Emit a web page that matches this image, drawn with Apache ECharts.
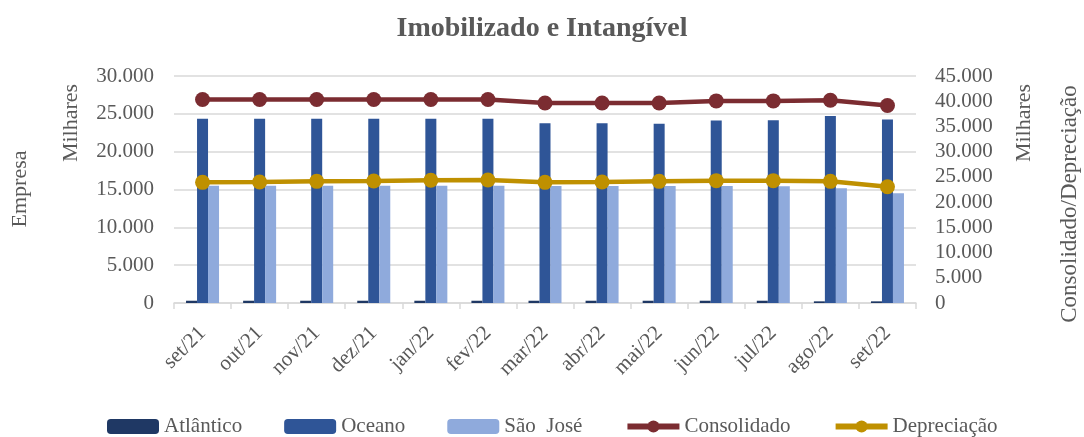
<!DOCTYPE html>
<html>
<head>
<meta charset="utf-8">
<script src="https://cdn.jsdelivr.net/npm/echarts@6/dist/echarts.min.js"></script>
<style>
  html, body { margin: 0; padding: 0; background: #fff; }
  #chart { width: 1084px; height: 437px; }
</style>
</head>
<body>
<div id="chart"></div>
<script>
// dados do gráfico (valores em milhares)
var meses = ['set/21', 'out/21', 'nov/21', 'dez/21', 'jan/22', 'fev/22', 'mar/22',
  'abr/22', 'mai/22', 'jun/22', 'jul/22', 'ago/22', 'set/22'];
var atlantico = [300, 300, 300, 300, 300, 300, 300, 300, 300, 300, 300, 220, 220];
var oceano = [24350, 24350, 24350, 24350, 24350, 24350, 23750, 23750, 23700, 24120, 24150, 24700, 24250];
var saoJose = [15500, 15480, 15480, 15480, 15480, 15480, 15460, 15460, 15460, 15460, 15440, 15160, 14500];
var consolidado = [40330, 40330, 40330, 40330, 40330, 40330, 39660, 39660, 39650, 40060, 40060, 40190, 39150];
var depreciacao = [23920, 23990, 24120, 24190, 24320, 24380, 23920, 23990, 24120, 24250, 24250, 24120, 23050];
var nomesSeries = ['Atlântico', 'Oceano', 'São  José', 'Consolidado', 'Depreciação'];

var fonte = 'Liberation Serif';
var cinza = '#595959';

// formata 25000 -> 25.000
function fmt(v) {
  return String(v).replace(/\B(?=(\d{3})+(?!\d))/g, '.');
}

// títulos verticais dos eixos
function nomeEixo(texto, x, y, tam) {
  return {
    type: 'text', x: x, y: y, rotation: Math.PI / 2,
    style: { text: texto, font: (tam || 22) + 'px "' + fonte + '"', fill: cinza, align: 'center', verticalAlign: 'middle' }
  };
}

var chart = echarts.init(document.getElementById('chart'));
chart.setOption({
  animation: false,
  textStyle: { fontFamily: fonte, color: cinza },
  title: {
    text: 'Imobilizado e Intangível',
    left: 'center',
    top: 10,
    textStyle: { fontFamily: fonte, fontSize: 28, fontWeight: 'bold', color: cinza }
  },
  grid: { left: 174, right: 168, top: 76, bottom: 134 },
  legend: {
    top: 411,
    left: 102,
    itemWidth: 52,
    itemHeight: 15,
    itemGap: 42,
    lineStyle: { width: 6 },
    textStyle: { fontFamily: fonte, fontSize: 21, color: cinza },
    data: nomesSeries.map(function (n) {
      return { name: n, textStyle: { fontFamily: fonte, fontSize: 21, color: cinza } };
    })
  },
  xAxis: {
    type: 'category',
    data: meses,
    axisLine: { lineStyle: { color: '#d9d9d9', width: 1.5 } },
    axisTick: { show: true, length: 6, lineStyle: { color: '#d9d9d9', width: 1.5 } },
    axisLabel: { rotate: 45, fontSize: 21, color: cinza, margin: 27, fontFamily: fonte }
  },
  yAxis: [
    {
      type: 'value',
      min: 0, max: 30000, interval: 5000,
      axisLabel: { fontSize: 21, color: cinza, margin: 20, fontFamily: fonte, formatter: fmt },
      axisLine: { show: false },
      splitLine: { lineStyle: { color: '#d9d9d9', width: 1.5 } }
    },
    {
      type: 'value',
      min: 0, max: 45000, interval: 5000,
      axisLabel: { fontSize: 21, color: cinza, margin: 19, fontFamily: fonte, formatter: fmt },
      axisLine: { show: false },
      splitLine: { show: false }
    }
  ],
  graphic: [
    nomeEixo('Empresa', 20, 189),
    nomeEixo('Milhares', 71, 123),
    nomeEixo('Milhares', 1024, 123),
    nomeEixo('Consolidado/Depreciação', 1070, 204, 23)
  ],
  series: [
    { name: nomesSeries[0], type: 'bar', data: atlantico, barWidth: 11, barGap: '0%',
      itemStyle: { color: '#1f3864' } },
    { name: nomesSeries[1], type: 'bar', data: oceano, barWidth: 11, barGap: '0%',
      itemStyle: { color: '#2f5597' } },
    { name: nomesSeries[2], type: 'bar', data: saoJose, barWidth: 11, barGap: '0%',
      itemStyle: { color: '#8faadc' } },
    { name: nomesSeries[3], type: 'line', yAxisIndex: 1, data: consolidado,
      symbol: 'circle', symbolSize: 15,
      lineStyle: { color: '#7b2c31', width: 4.5 }, itemStyle: { color: '#7b2c31' } },
    { name: nomesSeries[4], type: 'line', yAxisIndex: 1, data: depreciacao,
      symbol: 'circle', symbolSize: 15,
      lineStyle: { color: '#bf9000', width: 4.5 }, itemStyle: { color: '#bf9000' } }
  ]
});
</script>
</body>
</html>
